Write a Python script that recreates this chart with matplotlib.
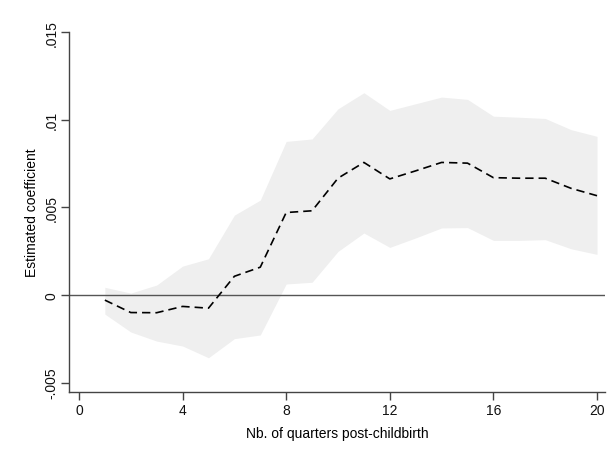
import numpy as np
import matplotlib
matplotlib.use('Agg')
import matplotlib.pyplot as plt

plt.rcParams['font.family'] = ['Liberation Sans', 'DejaVu Sans']

quarters = np.arange(1, 21)
coef = [-0.00029, -0.00100, -0.00101, -0.00065, -0.00075, 0.00107, 0.00159,
        0.00471, 0.00481, 0.00667, 0.00757, 0.00663, 0.00709, 0.00757,
        0.00753, 0.00670, 0.00667, 0.00667, 0.00609, 0.00567]
upper = [0.00044, 0.00011, 0.00057, 0.00165, 0.00207, 0.00456, 0.00542,
         0.00877, 0.00891, 0.01063, 0.01155, 0.01054, 0.01092, 0.01130,
         0.01117, 0.01021, 0.01015, 0.01008, 0.00944, 0.00906]
lower = [-0.00109, -0.00211, -0.00263, -0.00291, -0.00358, -0.00249, -0.00228,
         0.00063, 0.00073, 0.00249, 0.00354, 0.00272, 0.00326, 0.00383,
         0.00385, 0.00312, 0.00312, 0.00316, 0.00264, 0.00232]

xticks = [0, 4, 8, 12, 16, 20]
yticks = [-0.005, 0, 0.005, 0.01, 0.015]
ylabels = ['-.005', '0', '.005', '.01', '.015']

fig = plt.figure(figsize=(6.14, 4.56), dpi=100)
ax = fig.add_axes([0.113, 0.138, 0.872, 0.789])

ax.fill_between(quarters, lower, upper, color='#efefef', linewidth=0, zorder=1)
ax.axhline(0, color='#555555', linewidth=1.0, zorder=2)
ax.plot(quarters, coef, color='black', linestyle=(0, (5, 3)), linewidth=1.2, zorder=3)

ax.set_xlim(-0.37, 20.3)
ax.set_ylim(-0.00554, 0.015)
ax.set_xticks(xticks)
ax.set_yticks(yticks)
ax.set_yticklabels(ylabels, rotation=90, va='center')

for s in ['top', 'right']:
    ax.spines[s].set_visible(False)
for s in ['left', 'bottom']:
    ax.spines[s].set_color('#444444')
    ax.spines[s].set_linewidth(1.0)
ax.tick_params(direction='out', length=6, width=1, color='#444444',
               labelsize=10, labelcolor='#111111', pad=2)

ax.set_xlabel('Nb. of quarters post-childbirth', fontsize=10, labelpad=6)
ax.set_ylabel('Estimated coefficient', fontsize=10, labelpad=4)

fig.savefig('out.png', dpi=100)
